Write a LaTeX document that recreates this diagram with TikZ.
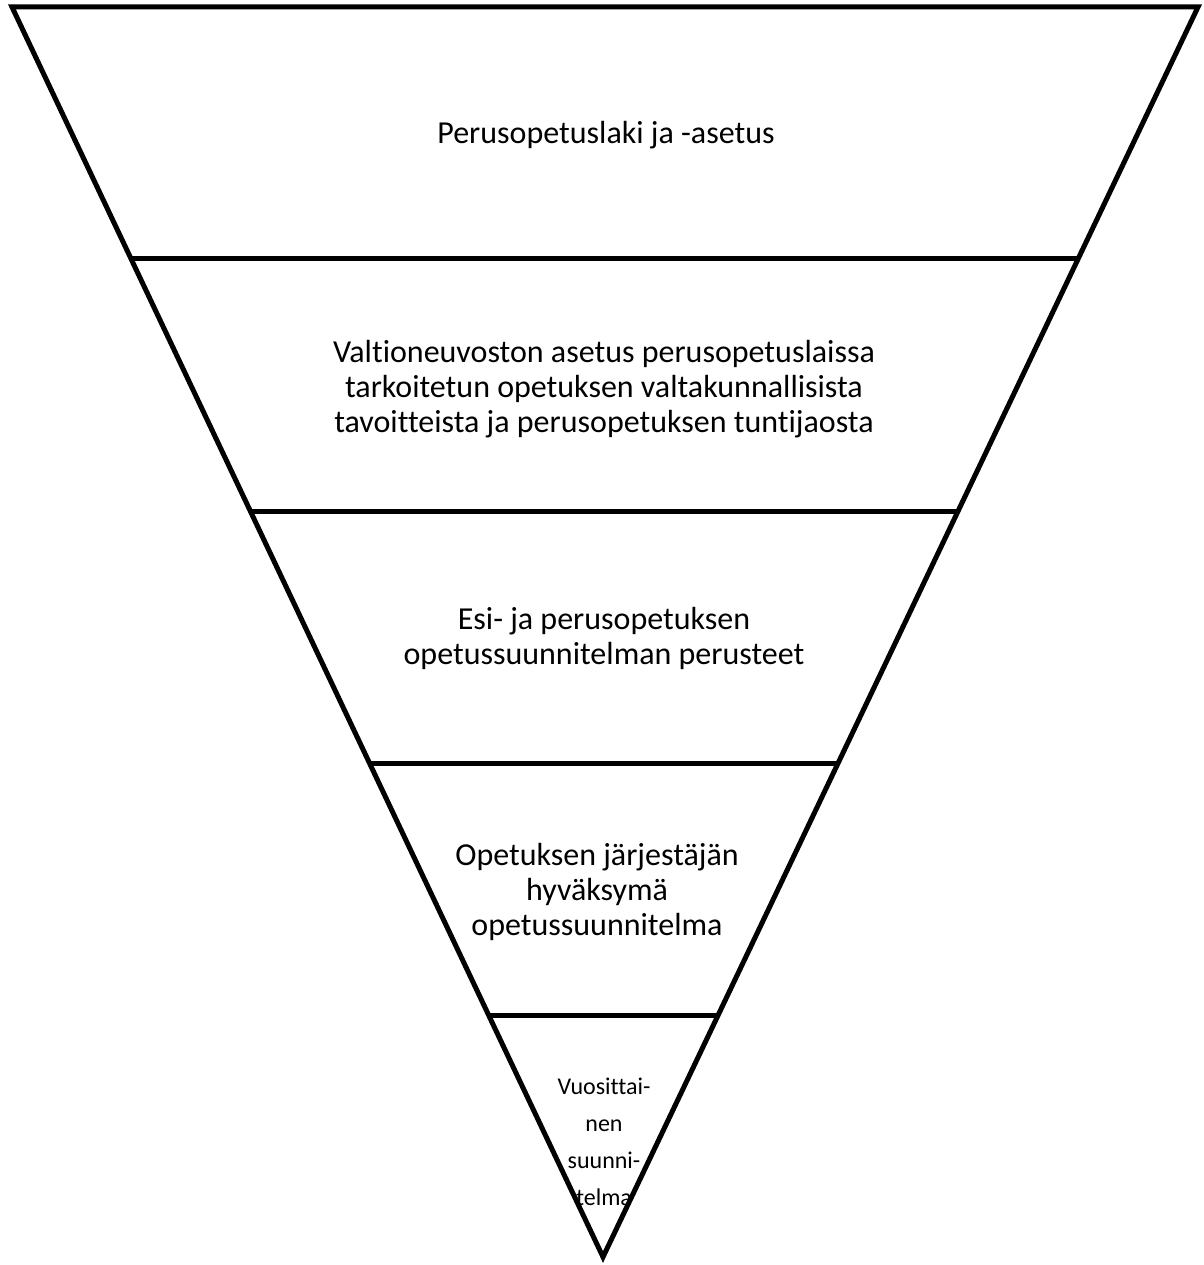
\documentclass[tikz,border=0pt]{standalone}
\usepackage{fontspec}
\setmainfont{Carlito}[Ligatures={NoCommon}]
\usetikzlibrary{calc}
\begin{document}
\begin{tikzpicture}[x=1pt,y=-1pt,
  edge/.style={line width=5pt,line join=miter},
  lbl/.style={align=center,font=\fontsize{32}{35}\selectfont,inner sep=0pt},
  small/.style={align=center,font=\fontsize{24}{37}\selectfont,inner sep=0pt}]
\useasboundingbox (0,0) rectangle (1203,1265);
\coordinate (tl) at (12,7);
\coordinate (tr) at (1198,7);
\coordinate (ap) at (603,1257);
\draw[edge] (tl) -- (tr) -- (ap) -- cycle;
\foreach \t/\n in {0.2016/1,0.4032/2,0.6048/3,0.8064/4}{
  \coordinate (l\n) at ($(tl)!\t!(ap)$);
  \coordinate (r\n) at ($(tr)!\t!(ap)$);
  \draw[edge] (l\n) -- (r\n);
}
\node[lbl] (t1) at (606,135) {Perusopetuslaki ja -asetus};
\node[lbl] (t2) at (604,389) {Valtioneuvoston asetus perusopetuslaissa\\tarkoitetun opetuksen valtakunnallisista\\tavoitteista ja perusopetuksen tuntijaosta};
\node[lbl] (t3) at (604,638) {Esi- ja perusopetuksen\\opetussuunnitelman perusteet};
\node[lbl] (t4) at (597,892) {Opetuksen järjestäjän\\hyväksymä\\opetussuunnitelma};
\node[small] (t5) at (604,1142) {Vuosittai-\\nen\\suunni-\\telma};
\end{tikzpicture}
\end{document}
